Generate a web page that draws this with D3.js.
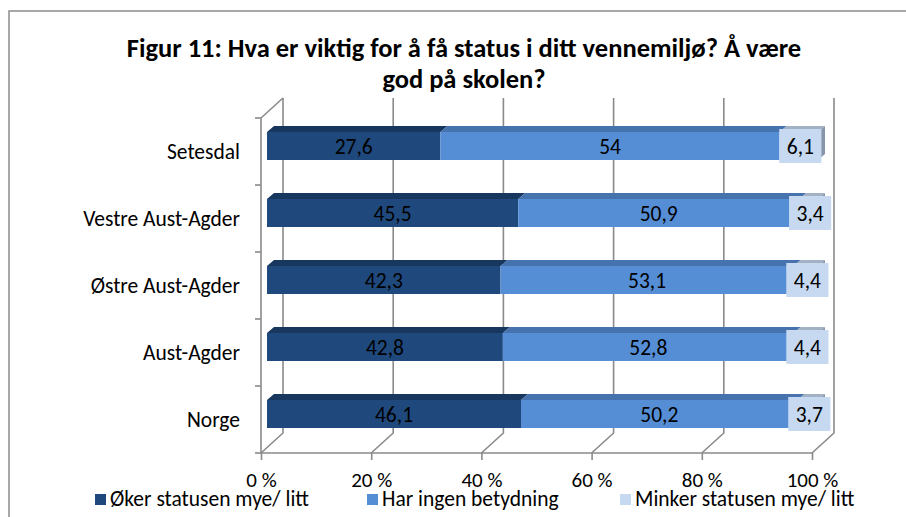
<!DOCTYPE html>
<html lang="no">
  <head>
    <meta charset="utf-8" />
    <title>Figur 11</title>
    <script src="https://cdn.jsdelivr.net/npm/d3@7"></script>
    <style>
      body {
        margin: 0;
        background: #fff;
      }
      svg text {
        font-family: Carlito, Lato, sans-serif;
        fill: #000;
      }
      .grid {
        fill: none;
        stroke: #8a8a8a;
        stroke-width: 1.6;
      }
    </style>
  </head>

  <body>
    <svg id="chart"></svg>

    <script>
      const categories = ["Setesdal", "Vestre Aust-Agder", "Østre Aust-Agder", "Aust-Agder", "Norge"];
      const okerValues = [27.6, 45.5, 42.3, 42.8, 46.1];
      const ingenValues = [54, 50.9, 53.1, 52.8, 50.2];
      const minkerValues = [6.1, 3.4, 4.4, 4.4, 3.7];
      const seriesNames = ["Øker statusen mye/ litt", "Har ingen betydning", "Minker statusen mye/ litt"];
      const tickValues = [0, 20, 40, 60, 80, 100];
      const titleLines = ["Figur 11: Hva er viktig for å få status i ditt vennemiljø? Å være", "god på skolen?"];

      const width = 906;
      const height = 517;

      // colours: front, top, side
      const frontColor = ["#1f497d", "#558ed5", "#c6d9f1"];
      const topColor = ["#17375e", "#4672ae", "#a3b1c4"];
      const sideColor = "#8795a8";

      const svg = d3.select("#chart").attr("width", width).attr("height", height);

      // outer frame
      svg
        .append("rect")
        .attr("x", 9)
        .attr("y", 11)
        .attr("width", width + 20)
        .attr("height", height + 20)
        .attr("fill", "none")
        .attr("stroke", "#8c8c8c")
        .attr("stroke-width", 1.5);

      // title
      svg
        .append("text")
        .attr("text-anchor", "middle")
        .attr("font-weight", "bold")
        .attr("font-size", 26.5)
        .selectAll("tspan")
        .data(titleLines)
        .join("tspan")
        .attr("x", 464)
        .attr("y", (d, i) => 57 + i * 31)
        .text(d => d);

      // plot geometry (front plane + depth offset)
      const plotTop = 118;
      const plotBottom = 453;
      const depth = { dx: 22, dy: -20 };

      const x = d3.scaleLinear().domain([0, 100]).range([261, 812]);
      const xBar = d3.scaleLinear().domain([0, 1]).range([267, 818]);
      const y = d3.scaleBand().domain(categories).range([plotTop, plotBottom]);

      // back wall + floor gridlines
      svg
        .append("g")
        .selectAll("path")
        .data(tickValues)
        .join("path")
        .attr("class", "grid")
        .attr("d", d => {
          const x0 = x(d);
          return `M${x0},${plotBottom} L${x0 + depth.dx},${plotBottom + depth.dy} L${x0 + depth.dx},${plotTop + depth.dy}`;
        });

      // left wall
      svg
        .append("path")
        .attr("class", "grid")
        .attr("d", `M${x(0) + depth.dx},${plotTop + depth.dy} L${x(0)},${plotTop} L${x(0)},${plotBottom} L${x(100)},${plotBottom}`);

      // category axis ticks
      const catTicks = categories.map(c => y(c)).concat([plotBottom]);
      svg
        .append("g")
        .selectAll("line")
        .data(catTicks)
        .join("line")
        .attr("class", "grid")
        .attr("x1", x(0) - 6)
        .attr("x2", x(0))
        .attr("y1", d => d)
        .attr("y2", d => d);

      // value axis
      const xAxis = d3
        .axisBottom(x)
        .tickValues(tickValues)
        .tickSize(7)
        .tickFormat(d => `${d} %`);
      const gx = svg.append("g").attr("transform", `translate(0,${plotBottom})`).call(xAxis);
      gx.select(".domain").remove();
      gx.selectAll("line").attr("stroke", "#8a8a8a").attr("stroke-width", 1.6);
      gx.selectAll("text")
        .attr("font-size", 21)
        .attr("font-family", "Carlito, Lato, sans-serif")
        .attr("fill", "#000")
        .attr("dy", 0)
        .attr("y", 34);

      // category labels
      svg
        .append("g")
        .selectAll("text")
        .data(categories)
        .join("text")
        .attr("x", 240)
        .attr("y", d => y(d) + y.bandwidth() / 2 + 7.5)
        .attr("text-anchor", "end")
        .attr("font-size", 21.5)
        .text(d => d);

      // stacked 100% bars
      const rows = categories.map((c, i) => {
        const vals = [okerValues[i], ingenValues[i], minkerValues[i]];
        const total = d3.sum(vals);
        let acc = 0;
        const segs = vals.map((v, k) => {
          const s = { cat: c, k, v, x0: acc / total, x1: (acc + v) / total };
          acc += v;
          return s;
        });
        return { cat: c, segs };
      });

      const barH = 28;
      const bdx = 7;
      const bdy = -6;
      const fmt = v => String(v).replace(".", ",");
      const barY = c => y(c) + y.bandwidth() / 2 - 5.5 - barH / 2;

      const gBars = svg.append("g");
      rows.forEach(row => {
        const by = barY(row.cat);
        const g = gBars.append("g");
        g.selectAll("polygon.top")
          .data(row.segs)
          .join("polygon")
          .attr("class", "top")
          .attr("fill", d => topColor[d.k])
          .attr("points", d => {
            const a = xBar(d.x0);
            const b = xBar(d.x1);
            return `${a},${by} ${b},${by} ${b + bdx},${by + bdy} ${a + bdx},${by + bdy}`;
          });
        const xe = xBar(1);
        g.append("polygon")
          .attr("fill", sideColor)
          .attr("points", `${xe},${by} ${xe + bdx},${by + bdy} ${xe + bdx},${by + barH + bdy} ${xe},${by + barH}`);
        g.selectAll("rect.front")
          .data(row.segs)
          .join("rect")
          .attr("class", "front")
          .attr("x", d => xBar(d.x0))
          .attr("y", by)
          .attr("width", d => xBar(d.x1) - xBar(d.x0))
          .attr("height", barH)
          .attr("fill", d => frontColor[d.k]);

        row.segs.forEach(d => {
          const cx = (xBar(d.x0) + xBar(d.x1)) / 2;
          const cy = by + barH / 2;
          const t = g
            .append("text")
            .attr("x", cx)
            .attr("y", cy + 8)
            .attr("text-anchor", "middle")
            .attr("font-size", 21.5)
            .text(fmt(d.v));
          if (d.k === 2) {
            const w = t.node().getComputedTextLength() + 15;
            g.insert("rect", () => t.node())
              .attr("x", cx - w / 2 + 1.5)
              .attr("y", cy - 17)
              .attr("width", w)
              .attr("height", 34)
              .attr("fill", frontColor[2]);
            t.attr("x", cx + 1.5);
          }
        });
      });

      // legend
      const legendX = [95, 367, 620];
      const legend = svg
        .append("g")
        .selectAll("g")
        .data(seriesNames)
        .join("g")
        .attr("transform", (d, i) => `translate(${legendX[i]},494)`);
      legend
        .append("rect")
        .attr("width", 11)
        .attr("height", 11)
        .attr("fill", (d, i) => frontColor[i]);
      legend
        .append("text")
        .attr("x", 15)
        .attr("y", 12)
        .attr("font-size", 21.5)
        .text(d => d);
    </script>
  </body>
</html>
